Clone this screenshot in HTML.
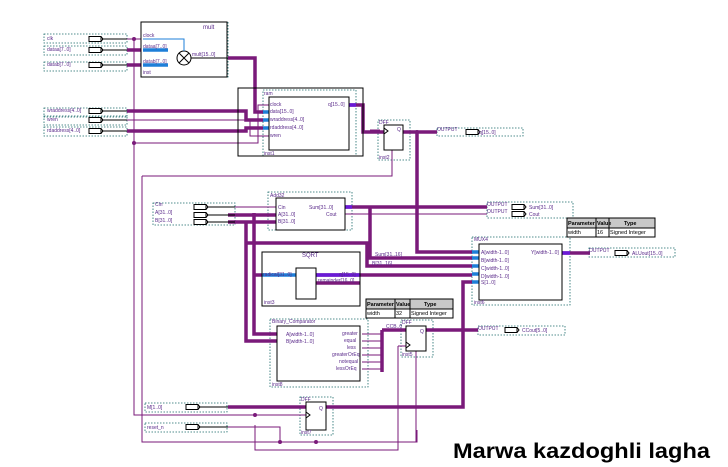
<!DOCTYPE html>
<html><head><meta charset="utf-8"><style>
body{margin:0;background:#fff;width:728px;height:467px;overflow:hidden}
svg{display:block}
text{font-family:"Liberation Sans",sans-serif}
</style></head><body>
<svg width="728" height="467" viewBox="0 0 728 467" xmlns="http://www.w3.org/2000/svg">
<defs>
<g id="inp"><rect x="0" y="-2.5" width="12" height="5" fill="#fff" stroke="#000" stroke-width="1"/><path d="M12 -2.5 L14 0 L12 2.5" fill="none" stroke="#000"/></g>
</defs>
<g fill="none" stroke="#1a6a6a" stroke-width="0.8" stroke-dasharray="1.5,1.5">
<rect x="44" y="34" width="83" height="9"/><rect x="44" y="46" width="83" height="9"/><rect x="44" y="62" width="83" height="9"/>
<rect x="44" y="108" width="83" height="9"/><rect x="44" y="116" width="83" height="9"/><rect x="44" y="127" width="83" height="9"/>
<rect x="153" y="203" width="82" height="22"/>
<rect x="145" y="403" width="82" height="9"/><rect x="145" y="423" width="82" height="9"/>
<rect x="437" y="128" width="86" height="8"/><rect x="487" y="202" width="86" height="16"/><rect x="589" y="248" width="86" height="9"/>
<rect x="478" y="326" width="87" height="9"/>
<rect x="141" y="22" width="87" height="55"/>
<rect x="263" y="90" width="93" height="66"/>
<rect x="378" y="120" width="32" height="40"/>
<rect x="268" y="192" width="84" height="38"/>
<rect x="262" y="252" width="98" height="54"/>
<rect x="472" y="237" width="98" height="68"/>
<rect x="270" y="319" width="98" height="68"/>
<rect x="401" y="320" width="32" height="37"/>
<rect x="300" y="397" width="33" height="38"/>
</g>
<g fill="none" stroke="#7a1a7a" stroke-width="1">
<path d="M127 39 H141"/><path d="M134 39 V415 H306"/>
<path d="M134 143 H258 V105 H269"/>
<path d="M127 120 H250 V136 H269"/>
<path d="M142 176 V442 H417 V430"/>
<path d="M142 176 H392 V150"/>
<path d="M235 207 H276"/><path d="M345 214 H487"/><path d="M370 130 H380"/>
<path d="M362 334 H382 M362 341 H382 M362 348 H382 M362 355 H382 M362 362 H382 M362 369 H382"/>
<path d="M398 346 H406 M398 346 V450 H255 V425"/>
<path d="M228 427 H280 V442"/>
<path d="M416 351 V442"/>
</g>
<g fill="#7a1a7a"><circle cx="134" cy="39" r="2"/><circle cx="134" cy="143" r="2"/><circle cx="255" cy="415" r="2"/><circle cx="280" cy="442" r="2"/><circle cx="316" cy="442" r="2"/><circle cx="417" cy="132" r="2"/></g>
<g fill="none" stroke="#7a1a7a" stroke-width="3.5">
<path d="M127 50 H141"/><path d="M127 65 H141"/>
<path d="M228 58 H255 V112 H263"/>
<path d="M127 111 H246 V120 H263"/>
<path d="M127 131 H246 V128 H263"/>
<path d="M349 105 H363 V132 H384"/>
<path d="M403 132 H437"/><path d="M417 132 V252 H472"/>
<path d="M345 207 H487"/>
<path d="M228 215 H276"/><path d="M228 222 H276"/>
<path d="M370 207 V258 H472"/>
<path d="M254 213 V334 H277"/>
<path d="M246 222 V341 H277"/>
<path d="M246 243 H367 V266 H472"/>
<path d="M253 275 H262"/>
<path d="M316 275 H472"/>
<path d="M316 283 H360"/>
<path d="M562 253 H590"/>
<path d="M382 330 V372"/><path d="M382 330 H406"/>
<path d="M426 330 H478"/>
<path d="M228 407 H306"/>
<path d="M326 407 H463 V282 H472"/>
</g>
<g stroke="#1e7fd8" stroke-width="3.5">
<path d="M143 50 H168 M143 65 H168"/>
<path d="M263 112 H269 M263 120 H269 M263 128 H269"/>
<path d="M276 215 H283 M276 222 H283"/>
<path d="M262 275 H296"/>
<path d="M277 334 H285 M277 341 H285"/>
<path d="M472 258 H479 M472 266 H479 M472 274 H479 M472 282 H479 M472 252 H479"/>
</g>
<g stroke="#6a1ad8" stroke-width="3.5"><path d="M345 207 H352 M349 105 H356 M316 275 H360 M562 253 H570"/></g>
<g fill="#fff" stroke="#000" stroke-width="1">
<rect x="141" y="22" width="86" height="55" fill="none"/>
<rect x="238" y="88" width="125" height="68" fill="none"/>
<rect x="269" y="97" width="80" height="53"/>
<rect x="384" y="125" width="19" height="25"/>
<rect x="276" y="198" width="69" height="32"/>
<rect x="262" y="252" width="98" height="54" fill="none"/>
<rect x="296" y="268" width="20" height="31"/>
<rect x="479" y="244" width="83" height="56"/>
<rect x="277" y="326" width="83" height="55"/>
<rect x="406" y="326" width="20" height="25"/>
<rect x="306" y="402" width="20" height="28"/>
<circle cx="184" cy="58" r="7"/>
</g>
<path d="M179 53 L189 63 M189 53 L179 63" stroke="#000"/>
<path d="M143 39 H184 V51" stroke="#1e7fd8" fill="none"/>
<path d="M191 58 H228" stroke="#000"/>
<g stroke="#000" fill="none"><path d="M384 128 L388 131 L384 134"/><path d="M406 342 L410 345 L406 348"/><path d="M306 412 L310 415 L306 418"/></g>
<g><use href="#inp" x="89" y="39"/><use href="#inp" x="89" y="50"/><use href="#inp" x="89" y="65"/>
<use href="#inp" x="89" y="111"/><use href="#inp" x="89" y="120"/><use href="#inp" x="89" y="131"/>
<use href="#inp" x="194" y="207"/><use href="#inp" x="194" y="215"/><use href="#inp" x="194" y="222"/>
<use href="#inp" x="186" y="407"/><use href="#inp" x="186" y="427"/>
<use href="#inp" x="466" y="132"/><use href="#inp" x="512" y="207"/><use href="#inp" x="512" y="214"/><use href="#inp" x="615" y="253"/><use href="#inp" x="505" y="330"/></g>
<g stroke="#000"><path d="M102 39 H127 M102 50 H127 M102 65 H127 M102 111 H127 M102 120 H127 M102 131 H127 M207 207 H235 M207 215 H235 M207 222 H235 M199 407 H228 M199 427 H228"/></g>
<g font-size="5.5" fill="#000">
<rect x="567" y="218" width="88" height="10" fill="#c8c8c8" stroke="#000"/><rect x="567" y="228" width="88" height="9" fill="#fff" stroke="#000"/>
<path d="M596 218 V237 M609 218 V237" stroke="#000"/>
<text x="568" y="225" font-weight="bold">Parameter</text><text x="597" y="225" font-weight="bold">Value</text><text x="624" y="225" font-weight="bold">Type</text>
<text x="568" y="234">width</text><text x="597" y="234">16</text><text x="610" y="234">Signed Integer</text>
<rect x="366" y="299" width="87" height="10" fill="#c8c8c8" stroke="#000"/><rect x="366" y="309" width="87" height="9" fill="#fff" stroke="#000"/>
<path d="M395 299 V318 M410 299 V318" stroke="#000"/>
<text x="367" y="306" font-weight="bold">Parameter</text><text x="396" y="306" font-weight="bold">Value</text><text x="424" y="306" font-weight="bold">Type</text>
<text x="367" y="315">width</text><text x="396" y="315">32</text><text x="411" y="315">Signed Integer</text>
</g>
<g font-size="5" fill="#5a2a8a">
<text x="203" y="29" font-size="6">mult</text><text x="143" y="37">clock</text><text x="143" y="48">dataa[7..0]</text><text x="143" y="63">datab[7..0]</text>
<text x="192" y="56">mult[15..0]</text><text x="143" y="74">inst</text>
<text x="47" y="40">clk</text><text x="47" y="51">dataa[7..0]</text><text x="47" y="66">datab[7..0]</text>
<text x="47" y="112">wraddress[4..0]</text><text x="47" y="121">wren</text><text x="47" y="132">rdaddress[4..0]</text>
<text x="270" y="106">clock</text><text x="270" y="113">data[15..0]</text><text x="270" y="121">wraddress[4..0]</text><text x="270" y="129">rdaddress[4..0]</text><text x="270" y="137">wren</text>
<text x="328" y="106">q[15..0]</text><text x="264" y="155">inst1</text><text x="264" y="95">ram</text>
<text x="270" y="197">Add32</text><text x="278" y="209">Cin</text><text x="278" y="216">A[31..0]</text><text x="278" y="223">B[31..0]</text>
<text x="309" y="209">Sum[31..0]</text><text x="326" y="216">Cout</text>
<text x="155" y="206">Cin</text><text x="155" y="214">A[31..0]</text><text x="155" y="222">B[31..0]</text>
<text x="302" y="257" font-size="6">SQRT</text><text x="263" y="276">radical[31..0]</text><text x="339" y="276">q[15..0]</text><text x="318" y="282">remainder[16..0]</text><text x="264" y="304">inst3</text>
<text x="272" y="323">Binary_Comparator</text><text x="286" y="336">A[width-1..0]</text><text x="286" y="343">B[width-1..0]</text>
<text x="342" y="335">greater</text><text x="344" y="342">equal</text><text x="347" y="349">less</text><text x="332" y="356">greaterOrEq</text><text x="339" y="363">notequal</text><text x="336" y="370">lessOrEq</text>
<text x="272" y="386">inst8</text>
<text x="474" y="241">MUX4</text><text x="481" y="254">A[width-1..0]</text><text x="481" y="262">B[width-1..0]</text><text x="481" y="270">C[width-1..0]</text><text x="481" y="278">D[width-1..0]</text><text x="481" y="284">S[1..0]</text>
<text x="531" y="254">Y[width-1..0]</text><text x="474" y="304">inst6</text>
<text x="375" y="256">Sum[31..16]</text><text x="372" y="265">B[31..16]</text><text x="386" y="328">CCB..0</text>
<text x="437" y="131">OUTPUT</text><text x="479" y="134">q[15..0]</text>
<text x="487" y="206">OUTPUT</text><text x="487" y="213">OUTPUT</text><text x="529" y="209">Sum[31..0]</text><text x="529" y="216">Cout</text>
<text x="589" y="252">OUTPUT</text><text x="632" y="255">ALUout[15..0]</text>
<text x="478" y="330">OUTPUT</text><text x="522" y="332">CCout[5..0]</text>
<text x="147" y="409">M[1..0]</text><text x="147" y="429">reset_n</text>
<text x="379" y="124">DFF</text><text x="379" y="159">inst2</text><text x="402" y="324">DFF</text><text x="402" y="356">inst5</text><text x="301" y="401">DFF</text><text x="301" y="434">inst7</text>
<text x="397" y="131">Q</text><text x="420" y="333">Q</text><text x="319" y="410">Q</text>
</g>
<text x="453" y="458" font-size="21" font-weight="bold" fill="#000" textLength="257" lengthAdjust="spacingAndGlyphs" font-family="Liberation Sans, sans-serif">Marwa kazdoghli lagha</text>
</svg>
</body></html>
